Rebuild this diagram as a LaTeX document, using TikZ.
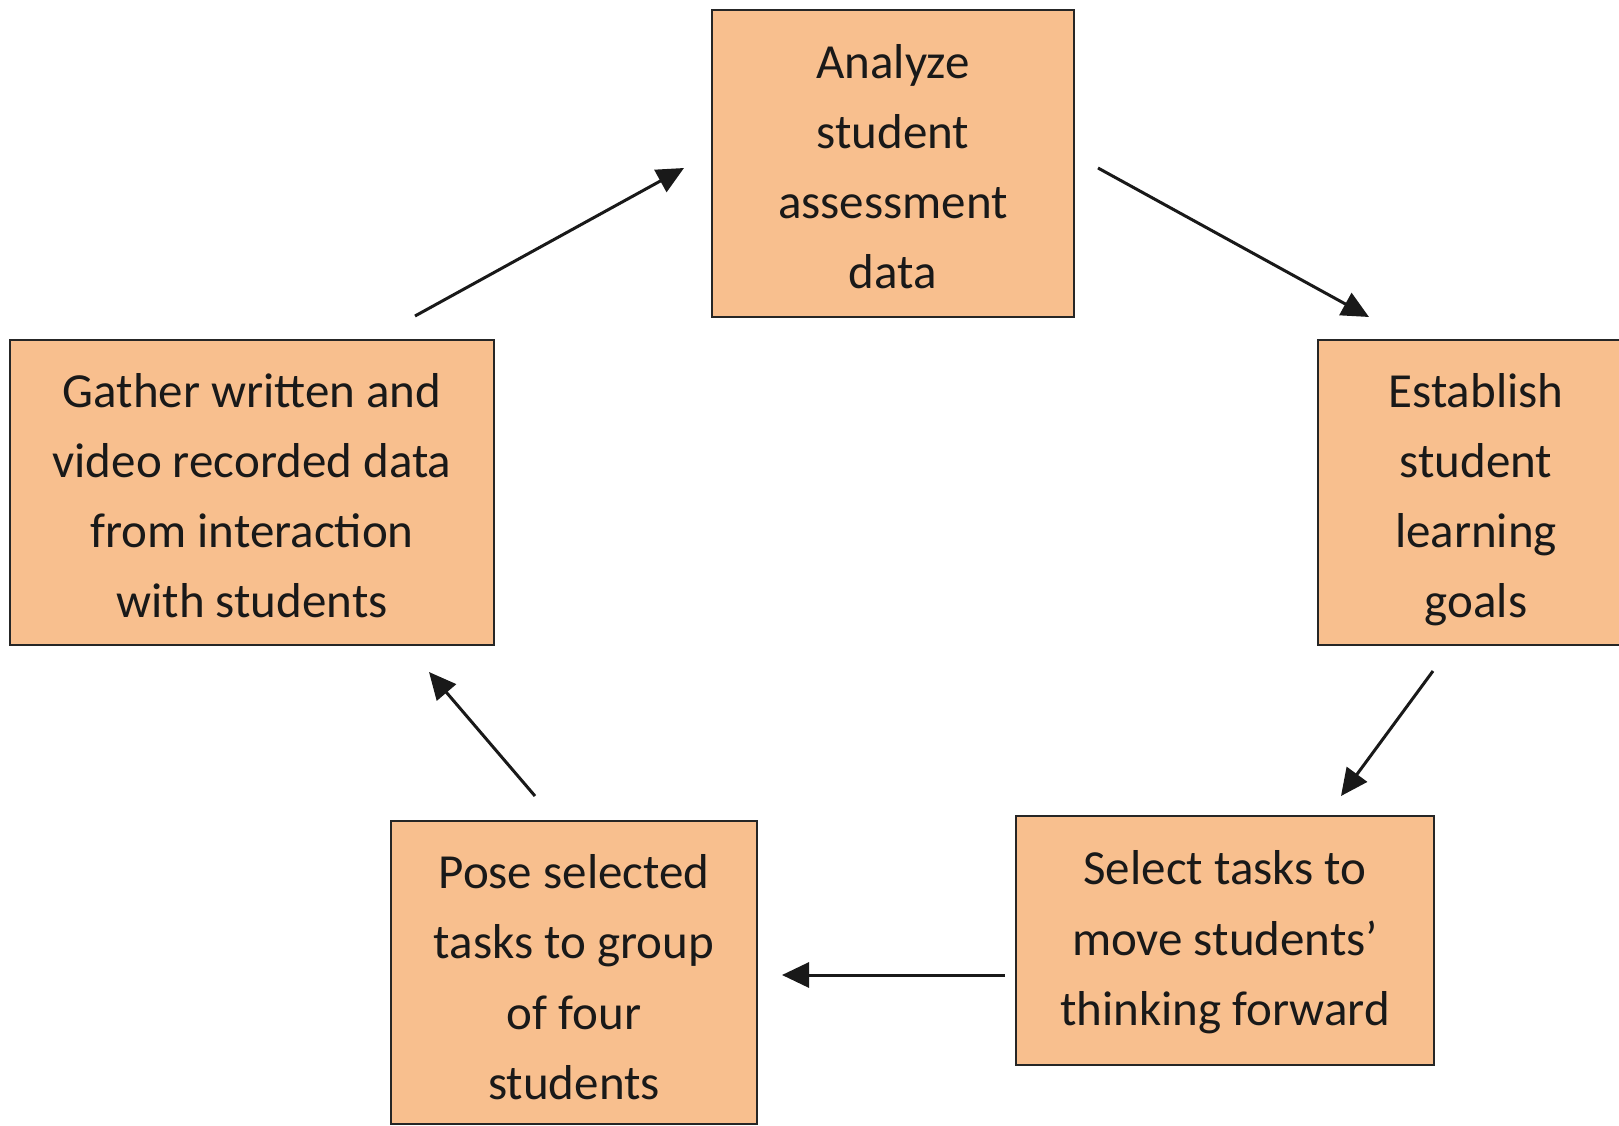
\documentclass[tikz,border=0pt]{standalone}
\usepackage{fontspec}
\setmainfont{Carlito}
\usetikzlibrary{arrows.meta}
\definecolor{boxfill}{HTML}{F8BF8E}
\definecolor{boxline}{HTML}{262626}
\newcommand\fstrut[1][61pt]{\rule{0pt}{#1}}
\newcommand\lstrut{\rule[-21pt]{0pt}{0pt}}
\tikzset{
  stepbox/.style={draw=boxline, line width=2pt, fill=boxfill, rectangle, inner sep=0pt,
    align=center, text=black!90, font=\fontsize{49}{70.3}\selectfont},
  flow/.style={line width=3pt, draw=black!90, -{Triangle[length=27pt,width=25pt]}}
}
\begin{document}
\begin{tikzpicture}[x=1pt,y=-1pt]
\useasboundingbox (0,0) rectangle (1619,1126);
\node[stepbox, minimum width=362pt, minimum height=307pt] (analyze) at (893,163.5)
  {\fstrut Analyze\\student\\assessment\\data\lstrut};
\node[stepbox, minimum width=316pt, minimum height=305pt] (establish) at (1476,492.5)
  {\fstrut Establish\\student\\learning\\goals\lstrut};
\node[stepbox, minimum width=484pt, minimum height=305pt] (gather) at (252,492.5)
  {\fstrut Gather written and\\video recorded data\\from interaction\\with students\lstrut};
\node[stepbox, minimum width=418pt, minimum height=249pt] (select) at (1225,940.5)
  {\fstrut[50pt]Select tasks to\\move students’\\thinking forward\lstrut};
\node[stepbox, minimum width=366pt, minimum height=303pt] (pose) at (574,972.5)
  {\fstrut[64pt]Pose selected\\tasks to group\\of four\\students\lstrut};
\coordinate (a1s) at (415,316);  \coordinate (a1e) at (684,168);
\coordinate (a2s) at (1098,168); \coordinate (a2e) at (1369,317);
\coordinate (a3s) at (1433,671); \coordinate (a3e) at (1341,796);
\coordinate (a4s) at (1005,975); \coordinate (a4e) at (782,975);
\coordinate (a5s) at (535,796);  \coordinate (a5e) at (429,672);
\draw[flow] (a1s) -- (a1e);
\draw[flow] (a2s) -- (a2e);
\draw[flow] (a3s) -- (a3e);
\draw[flow] (a4s) -- (a4e);
\draw[flow] (a5s) -- (a5e);
\end{tikzpicture}
\end{document}
